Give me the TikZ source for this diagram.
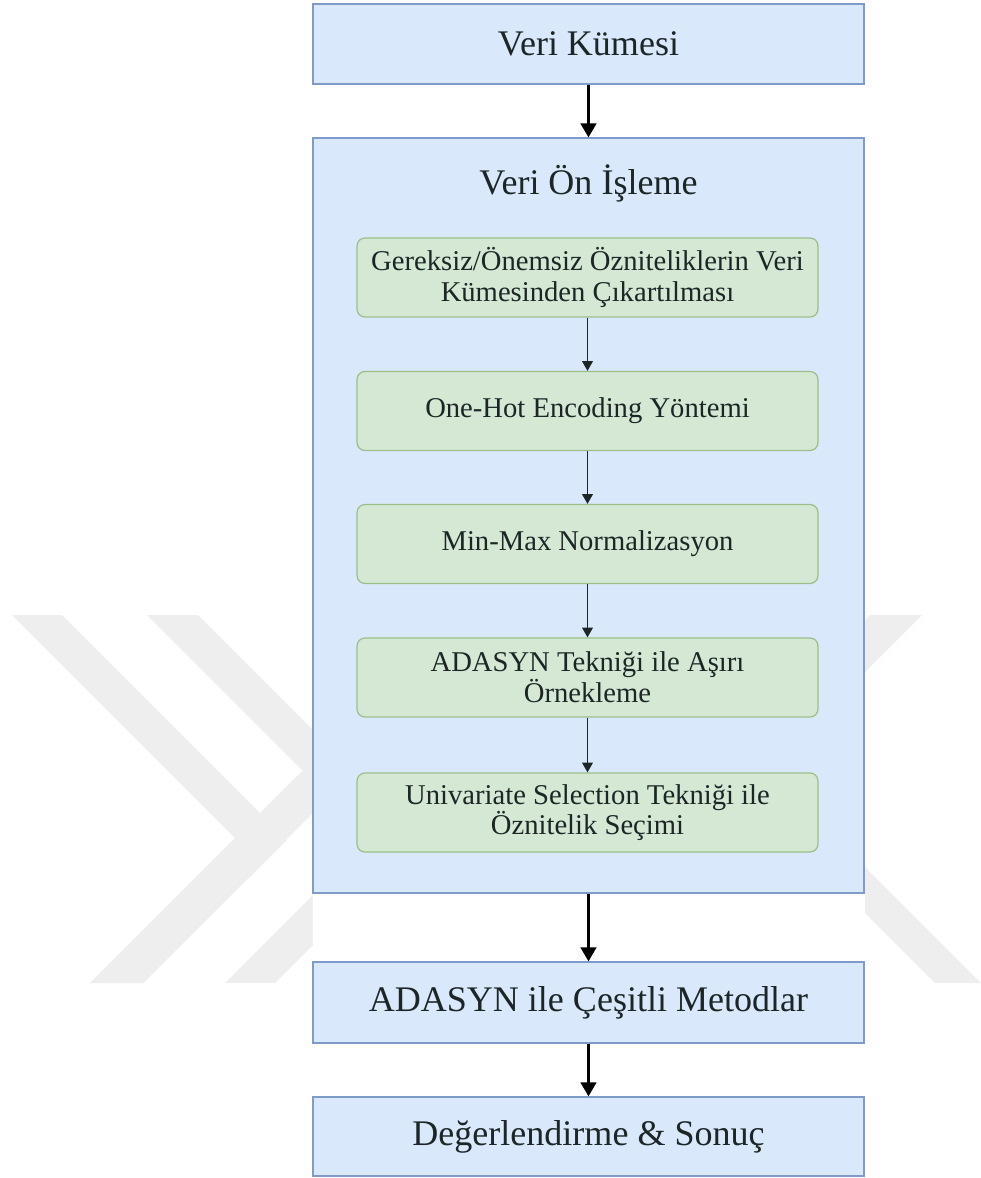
\documentclass[tikz,border=0pt]{standalone}
\usepackage{fontspec}
\setmainfont{Liberation Serif}
\usetikzlibrary{arrows.meta}
\definecolor{boxblue}{HTML}{DAE8FC}
\definecolor{lineblue}{HTML}{7F9CC8}
\definecolor{boxgreen}{HTML}{D5E8D4}
\definecolor{linegreen}{HTML}{9CBF8A}
\definecolor{inkdark}{HTML}{1C2626}
\definecolor{markgray}{HTML}{EEEEEE}

\begin{document}
\begin{tikzpicture}[x=0.02cm, y=-0.02cm,
    bluebox/.style={draw=lineblue, fill=boxblue, line width=0.8pt, minimum width=11.02cm,
      minimum height=1.6cm, text=inkdark, font=\fontsize{20.5}{24}\selectfont},
    greenbox/.style={draw=linegreen, fill=boxgreen, line width=0.7pt, rounded corners=4.5pt,
      minimum width=9.22cm, minimum height=1.58cm, align=center, text=inkdark,
      font=\fontsize{16.3}{17.5}\selectfont},
    bigarrow/.style={-{Triangle[length=8pt,width=9pt]}, line width=1.4pt, black},
    smallarrow/.style={-{Triangle[length=5.5pt,width=6pt]}, line width=0.9pt, inkdark}]
  \useasboundingbox (0,0) rectangle (981,1178);

  % faint watermark behind the chart
  \begin{scope}
    \clip (0,0) rectangle (313,1178) (865,0) rectangle (981,1178);
    \fill[markgray] (12,615) -- (62,615) -- (287,840) -- (143,983) -- (90,983) -- (235,838) -- cycle;
    \fill[markgray] (90,983) -- (143,983) -- (386,740) -- (333,740) -- cycle;
    \fill[markgray] (147,615) -- (198,615) -- (420.5,837.5) -- (275,983) -- (225,983) -- (370,838) -- cycle;
    \fill[markgray] (870,615) -- (922,615) -- (767.5,769.5) -- (981,983) -- (935,983) -- (718.5,766.5) -- cycle;
  \end{scope}

  \node[bluebox] (dataset) at (588.5,44) {Veri Kümesi};
  \node[bluebox, minimum height=15.1cm] (prep) at (588.5,515.5) {};
  \node[text=inkdark, font=\fontsize{20.5}{24}\selectfont] (prepTitle) at (588.5,183) {Veri Ön İşleme};

  \node[greenbox] (drop) at (587.5,277.5) {Gereksiz/Önemsiz Özniteliklerin Veri\\Kümesinden Çıkartılması};
  \node[greenbox] (onehot) at (587.5,411) {One-Hot Encoding Yöntemi};
  \node[greenbox] (minmax) at (587.5,544) {Min-Max Normalizasyon};
  \node[greenbox] (adasyn) at (587.5,677.5) {ADASYN Tekniği ile Aşırı\\Örnekleme};
  \node[greenbox] (univar) at (587.5,812.5) {Univariate Selection Tekniği ile\\Öznitelik Seçimi};

  \node[bluebox, minimum height=1.62cm] (methods) at (588.5,1002.5) {ADASYN ile Çeşitli Metodlar};
  \node[bluebox, minimum height=1.58cm] (results) at (588.5,1136.5) {Değerlendirme \& Sonuç};

  \draw[bigarrow] (dataset) -- (prep);
  \foreach \a/\b in {drop/onehot, onehot/minmax, minmax/adasyn, adasyn/univar} {
    \draw[smallarrow] (\a) -- (\b);
  }
  \draw[bigarrow] (prep) -- (methods);
  \draw[bigarrow] (methods) -- (results);
\end{tikzpicture}
\end{document}
